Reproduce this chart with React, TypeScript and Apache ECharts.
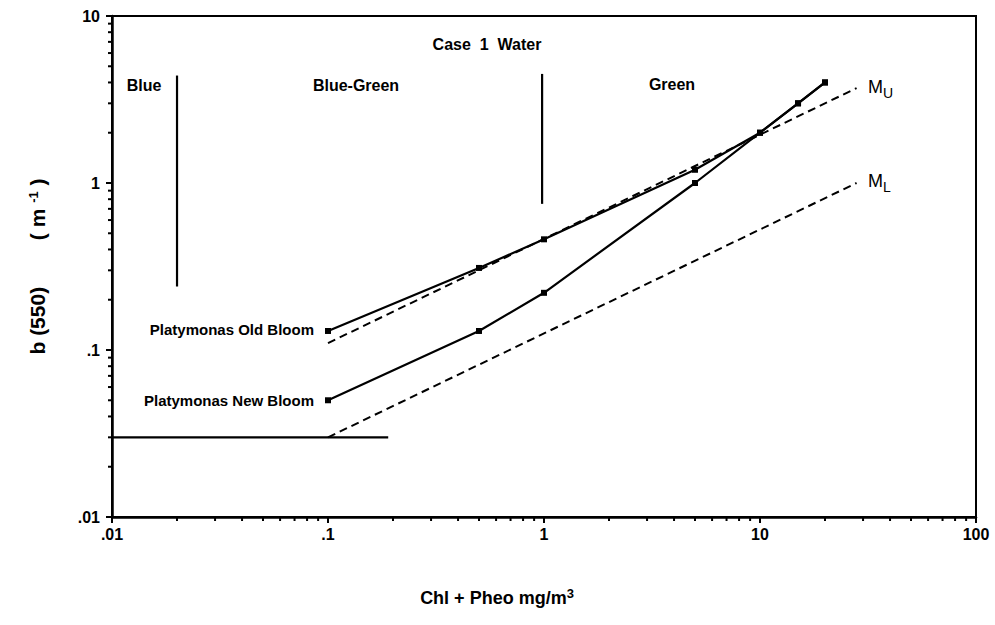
import React, { useEffect, useRef } from "react";
import * as echarts from "echarts";

// Data
const oldBloom: [number, number][] = [
  [0.1, 0.13], [0.5, 0.31], [1, 0.46], [5, 1.2], [10, 2.0], [15, 3.0], [20, 4.0],
];
const newBloom: [number, number][] = [
  [0.1, 0.05], [0.5, 0.13], [1, 0.22], [5, 1.0], [10, 2.0], [15, 3.0], [20, 4.0],
];
const modelUpper: [number, number][] = [[0.1, 0.11], [28, 3.7]];
const modelLower: [number, number][] = [[0.1, 0.03], [28, 1.0]];
const clearWater: [number, number][] = [[0.01, 0.03], [0.19, 0.03]];
const blueDivider: [number, number][] = [[0.02, 4.4], [0.02, 0.24]];
const greenDivider: [number, number][] = [[0.98, 4.5], [0.98, 0.75]];

const minorTicksX: number[] = [
  0.02, 0.03, 0.04, 0.05, 0.06, 0.07, 0.08, 0.09,
  0.2, 0.3, 0.4, 0.5, 0.6, 0.7, 0.8, 0.9,
  2, 3, 4, 5, 6, 7, 8, 9,
  20, 30, 40, 50, 60, 70, 80, 90,
];
const minorTicksY: number[] = [
  0.02, 0.03, 0.04, 0.05, 0.06, 0.07, 0.08, 0.09,
  0.2, 0.3, 0.4, 0.5, 0.6, 0.7, 0.8, 0.9,
  2, 3, 4, 5, 6, 7, 8, 9,
];

const FONT = '"Liberation Sans", Arial, Helvetica, sans-serif';

const fmt = (v: number) => String(+Number(v).toPrecision(3)).replace(/^0\./, ".");

export default function App() {
  const ref = useRef<HTMLDivElement>(null);
  useEffect(() => {
    document.body.style.margin = "0";
    if (!ref.current) return;
    const chart = echarts.init(ref.current, null, { renderer: "svg" });
    const solid = { color: "#000", width: 2.2, type: "solid" as const };
    const dashed = { color: "#000", width: 2, type: [8, 5] as any };
    const lineSeries = (name: string, data: [number, number][], ls: any, marker: boolean) => ({
      type: "line",
      name,
      data,
      lineStyle: ls,
      itemStyle: { color: "#000" },
      symbol: marker ? "rect" : "none",
      symbolSize: 6,
      showSymbol: marker,
      silent: true,
      z: 3,
    });
    const subRich = {
      m: { fontSize: 18, fontFamily: FONT, verticalAlign: "top", lineHeight: 22 },
      s: { fontSize: 14, fontFamily: FONT, verticalAlign: "bottom", lineHeight: 22, padding: [9, 0, 0, 0] },
    };
    chart.setOption({
      animation: false,
      backgroundColor: "#fff",
      textStyle: { fontFamily: FONT },
      grid: {
        left: 112, right: 19, top: 16, bottom: 108,
        show: true, borderColor: "#000", borderWidth: 2, backgroundColor: "transparent",
      },
      xAxis: {
        type: "log", logBase: 10, min: 0.01, max: 100,
        axisLine: { show: true, lineStyle: { color: "#000", width: 2.5 } },
        axisTick: { show: true, length: 6, lineStyle: { color: "#000", width: 2 } },
        axisLabel: { color: "#000", fontSize: 16, fontWeight: "bold", margin: 9, formatter: fmt, fontFamily: FONT },
        splitLine: { show: false },
      },
      yAxis: {
        type: "log", logBase: 10, min: 0.01, max: 10,
        axisLine: { show: true, lineStyle: { color: "#000", width: 2.5 } },
        axisTick: { show: true, length: 6, lineStyle: { color: "#000", width: 2 } },
        axisLabel: { color: "#000", fontSize: 16, fontWeight: "bold", margin: 12, formatter: fmt, fontFamily: FONT },
        splitLine: { show: false },
        name: "b (550)        ( m {sup|-1} )",
        nameLocation: "middle",
        nameRotate: 90,
        nameGap: 64,
        nameTextStyle: {
          color: "#000", fontSize: 21, fontWeight: "bold", fontFamily: FONT,
          rich: { sup: { fontSize: 13, fontWeight: "bold", verticalAlign: "top", lineHeight: 14, padding: [0, 0, 10, 0] } },
        },
      },
      graphic: [
        { type: "text", x: 487, y: 44, style: { text: "Case  1  Water", font: `bold 16px ${FONT}`, fill: "#000", align: "center", verticalAlign: "middle" } },
        { type: "text", x: 144, y: 85, style: { text: "Blue", font: `bold 16px ${FONT}`, fill: "#000", align: "center", verticalAlign: "middle" } },
        { type: "text", x: 356, y: 85, style: { text: "Blue-Green", font: `bold 16px ${FONT}`, fill: "#000", align: "center", verticalAlign: "middle" } },
        { type: "text", x: 672, y: 84, style: { text: "Green", font: `bold 16px ${FONT}`, fill: "#000", align: "center", verticalAlign: "middle" } },
        { type: "text", x: 314, y: 329, style: { text: "Platymonas Old Bloom", font: `bold 15px ${FONT}`, fill: "#000", align: "right", verticalAlign: "middle" } },
        { type: "text", x: 314, y: 400, style: { text: "Platymonas New Bloom", font: `bold 15px ${FONT}`, fill: "#000", align: "right", verticalAlign: "middle" } },
        { type: "text", x: 868, y: 78, style: { text: "{m|M}{s|U}", fill: "#000", rich: subRich } },
        { type: "text", x: 868, y: 172, style: { text: "{m|M}{s|L}", fill: "#000", rich: subRich } },
        {
          type: "text", x: 497, y: 598,
          style: {
            text: "Chl + Pheo mg/m{sup|3}", font: `bold 18px ${FONT}`, fill: "#000", align: "center", verticalAlign: "middle",
            rich: { sup: { fontSize: 13, fontWeight: "bold", fontFamily: FONT, verticalAlign: "top", padding: [0, 0, 10, 0] } },
          },
        },
      ],
      series: [
        lineSeries("Platymonas Old Bloom", oldBloom, solid, true),
        lineSeries("Platymonas New Bloom", newBloom, solid, true),
        lineSeries("M_U", modelUpper, dashed, false),
        lineSeries("M_L", modelLower, dashed, false),
        lineSeries("clear water", clearWater, solid, false),
        lineSeries("blue divider", blueDivider, solid, false),
        lineSeries("green divider", greenDivider, solid, false),
        {
          type: "custom",
          name: "minor x ticks",
          data: minorTicksX.map((v) => [v]),
          silent: true,
          clip: false,
          renderItem: (_p: any, api: any) => {
            const pt = api.coord([api.value(0), 0.01]);
            return { type: "line", shape: { x1: pt[0], y1: pt[1], x2: pt[0], y2: pt[1] + 4 }, style: { stroke: "#000", lineWidth: 2 } };
          },
        },
        {
          type: "custom",
          name: "minor y ticks",
          data: minorTicksY.map((v) => [v]),
          silent: true,
          clip: false,
          renderItem: (_p: any, api: any) => {
            const pt = api.coord([0.01, api.value(0)]);
            return { type: "line", shape: { x1: pt[0], y1: pt[1], x2: pt[0] - 4, y2: pt[1] }, style: { stroke: "#000", lineWidth: 2 } };
          },
        },
      ],
    } as any);
    return () => chart.dispose();
  }, []);
  return <div ref={ref} style={{ width: 995, height: 625 }} />;
}
